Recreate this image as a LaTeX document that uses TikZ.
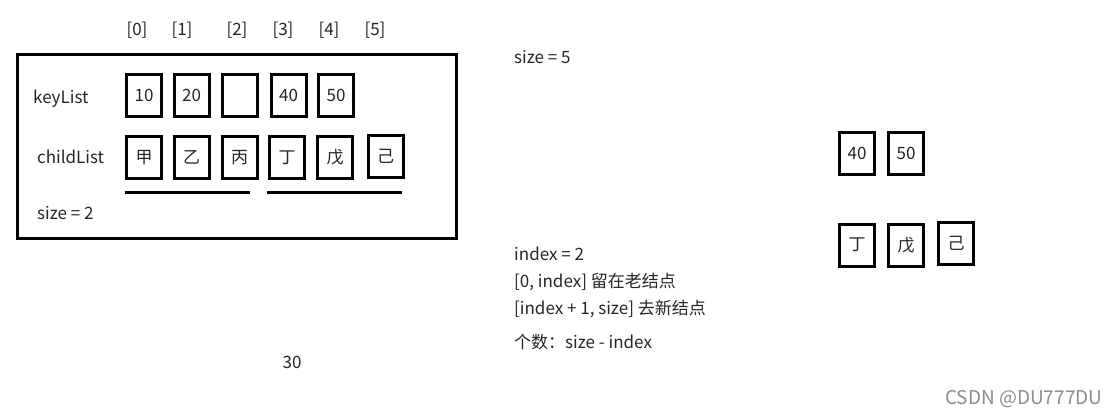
\documentclass[tikz,border=0pt]{standalone}
\usepackage{fontspec}
\setmainfont{Noto Sans CJK SC}
\begin{document}
\begin{tikzpicture}[x=1pt,y=-1pt,
  every node/.style={font=\fontsize{17}{20}\selectfont, text=black!85},
  cell/.style={draw=black, line width=3pt, minimum width=35pt, minimum height=42pt, inner sep=0pt},
  lbl/.style={anchor=west, inner sep=0pt},
  frame/.style={draw=black, line width=3pt},
  uline/.style={draw=black, line width=3pt}]
\useasboundingbox (0,0) rectangle (1119,418);
\fill[white] (0,0) rectangle (1119,418);
% outer box
\node[frame, minimum width=439pt, minimum height=184pt, inner sep=0pt] (outer) at (236.5,146.5) {};
% index labels
\node (i0) at (137,30) {[0]};
\node (i1) at (182,30) {[1]};
\node (i2) at (237,30) {[2]};
\node (i3) at (283,30) {[3]};
\node (i4) at (329,30) {[4]};
\node (i5) at (375,30) {[5]};
% row labels
\node[lbl] (keyl) at (33,99) {keyList};
\node[lbl] (childl) at (37,157) {childList};
\node[lbl] (sizel) at (37,213) {size = 2};
% key cells
\node[cell] (k0) at (144,95.5) {10};
\node[cell] (k1) at (191.5,95.5) {20};
\node[cell] (k2) at (240,95.5) {};
\node[cell] (k3) at (288.5,95.5) {40};
\node[cell] (k4) at (336,95.5) {50};
% child cells
\node[cell] (c0) at (144,157.5) {\raisebox{-4pt}{甲}};
\node[cell] (c1) at (191.5,157.5) {\raisebox{-4pt}{乙}};
\node[cell] (c2) at (239.5,157.5) {\raisebox{-4pt}{丙}};
\node[cell] (c3) at (287,157.5) {\raisebox{-4pt}{丁}};
\node[cell] (c4) at (335,157.5) {\raisebox{-4pt}{戊}};
\node[cell] (c5) at (385.5,156.5) {\raisebox{-4pt}{己}};
% underlines
\coordinate (u1a) at (125,192);
\coordinate (u1b) at (250,192);
\coordinate (u2a) at (267,192);
\coordinate (u2b) at (402,192);
\draw[uline] (u1a) -- (u1b);
\draw[uline] (u2a) -- (u2b);
% right texts
\node[lbl] (size5) at (514,57) {size = 5};
\node[lbl] (idx) at (514,254) {index = 2};
\node[lbl] (old) at (514,282) {[0, index] 留在老结点};
\node[lbl] (new) at (514,309) {[index + 1, size] 去新结点};
\node[lbl] (cnt) at (514,342) {个数：size - index};
% right cells
\node[cell] (rk0) at (857,153.5) {40};
\node[cell] (rk1) at (906,153.5) {50};
\node[cell] (rc0) at (857,245) {\raisebox{-4pt}{丁}};
\node[cell] (rc1) at (906,245) {\raisebox{-4pt}{戊}};
\node[cell] (rc2) at (956,243.5) {\raisebox{-4pt}{己}};
% page number
\node (num) at (292,362) {30};
% watermark
\node[lbl, text=black!45, font=\fontsize{19}{22}\selectfont] (wm) at (945,399) {CSDN @DU777DU};
\end{tikzpicture}
\end{document}
